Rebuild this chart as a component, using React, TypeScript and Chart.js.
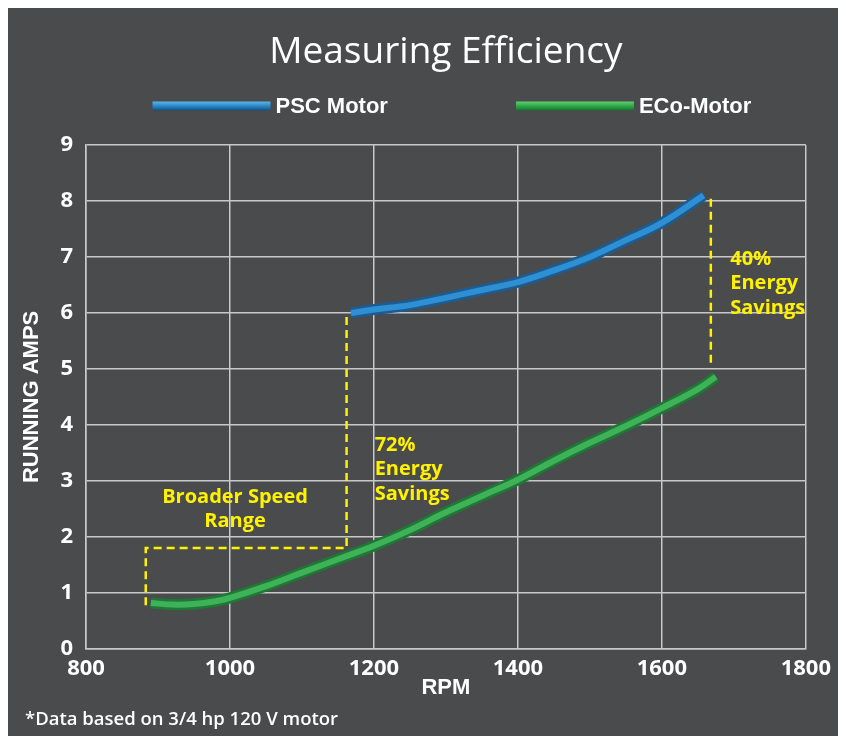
import React, { useEffect, useRef } from "react";
import { Chart, registerables } from "chart.js";

Chart.register(...registerables);

// ---------- data ----------
const TITLE = "Measuring Efficiency";
const FOOTNOTE = "*Data based on 3/4 hp 120 V motor";
const X_TITLE = "RPM";
const Y_TITLE = "RUNNING AMPS";
const SERIES_NAMES = ["PSC Motor", "ECo-Motor"];

const X_MIN = 800;
const X_MAX = 1800;
const X_STEP = 200;
const Y_MIN = 0;
const Y_MAX = 9;
const Y_STEP = 1;

const PSC_RPM = [1168, 1200, 1250, 1300, 1350, 1400, 1450, 1500, 1550, 1600, 1658];
const PSC_AMPS = [6.0, 6.06, 6.14, 6.27, 6.41, 6.55, 6.76, 7.0, 7.3, 7.61, 8.1];

const ECO_RPM = [890, 920, 950, 980, 1000, 1050, 1100, 1150, 1200, 1250, 1300, 1350, 1400, 1450, 1500, 1550, 1600, 1650, 1675];
const ECO_AMPS = [0.82, 0.79, 0.8, 0.85, 0.91, 1.12, 1.36, 1.6, 1.84, 2.12, 2.44, 2.73, 3.02, 3.36, 3.68, 3.98, 4.3, 4.64, 4.86];

const BRACKET_RPM = [883, 883, 1162, 1162];
const BRACKET_AMPS = [0.78, 1.8, 1.8, 5.97];
const SAVINGS40_RPM = [1668, 1668];
const SAVINGS40_AMPS = [8.04, 5.02];

const NOTE_TEXTS = [
  ["Broader Speed", "Range"],
  ["72%", "Energy", "Savings"],
  ["40%", "Energy", "Savings"],
];
const NOTE_RPM = [1007, 1201, 1695];
const NOTE_AMPS = [2.71, 3.64, 6.96];
const NOTE_ALIGN = ["center", "left", "left"];

// ---------- styles ----------
const BG = "#4a4b4d";
const GRID = "#c8c8c8";
const YELLOW = "#fff200";
const NARROW = "'Liberation Sans', Arial, sans-serif";
const OPEN = "'Open Sans', sans-serif";

const pts = (xs: number[], ys: number[]) => xs.map((x, i) => ({ x, y: ys[i] }));

const barLegend = {
  id: "barLegend",
  afterDraw(chart: any) {
    const ctx = chart.ctx as CanvasRenderingContext2D;
    const items = chart.data.datasets.filter((d: any) => d.legendBar);
    ctx.save();
    ctx.font = `bold 22px ${NARROW}`;
    const barW = 118;
    const barH = 9;
    const gap = 5;
    const spacing = 128;
    const widths = items.map((d: any) => barW + gap + ctx.measureText(d.label).width);
    const total = widths.reduce((a: number, b: number) => a + b, 0) + spacing * (items.length - 1);
    let x = (chart.chartArea.left + chart.chartArea.right) / 2 + 6 - total / 2;
    const y = 98;
    items.forEach((d: any, i: number) => {
      const g = ctx.createLinearGradient(0, y - barH / 2, 0, y + barH / 2);
      g.addColorStop(0, d.legendBar[0]);
      g.addColorStop(0.5, d.legendBar[1]);
      g.addColorStop(1, d.legendBar[2]);
      ctx.fillStyle = g;
      ctx.fillRect(x, y - barH / 2, barW, barH);
      ctx.fillStyle = "#ffffff";
      ctx.textBaseline = "middle";
      ctx.textAlign = "left";
      ctx.fillText(d.label, x + barW + gap, y + 1);
      x += widths[i] + spacing;
    });
    ctx.restore();
  },
};

const notesPlugin = {
  id: "notes",
  afterDatasetsDraw(chart: any) {
    const ctx = chart.ctx as CanvasRenderingContext2D;
    const xs = chart.scales.x;
    const ys = chart.scales.y;
    ctx.save();
    ctx.font = `bold 20px ${OPEN}`;
    ctx.fillStyle = YELLOW;
    ctx.textBaseline = "middle";
    NOTE_TEXTS.forEach((lines, i) => {
      const px = xs.getPixelForValue(NOTE_RPM[i]);
      const py = ys.getPixelForValue(NOTE_AMPS[i]);
      ctx.textAlign = NOTE_ALIGN[i] as CanvasTextAlign;
      lines.forEach((t, k) => ctx.fillText(t, px, py + k * 24.5));
    });
    ctx.restore();
  },
};

export default function App() {
  const ref = useRef<HTMLCanvasElement | null>(null);

  useEffect(() => {
    if (!ref.current) return;
    const tickFont = { family: OPEN, size: 22, weight: "bold" as const };
    const lineBase = {
      pointRadius: 0,
      tension: 0.4,
      borderCapStyle: "butt",
      borderJoinStyle: "round",
    };
    const chart = new Chart(ref.current, {
      type: "line",
      data: {
        datasets: [
          {
            ...lineBase,
            label: SERIES_NAMES[0],
            data: pts(PSC_RPM, PSC_AMPS),
            borderColor: "#2f8fd3",
            borderWidth: 6,
            order: 0,
          },
          {
            ...lineBase,
            label: SERIES_NAMES[0],
            data: pts(PSC_RPM, PSC_AMPS),
            borderColor: "#1b5c93",
            borderWidth: 11,
            order: 1,
            legendBar: ["#5ab6ec", "#2a88c8", "#174f80"],
          },
          {
            ...lineBase,
            label: SERIES_NAMES[1],
            data: pts(ECO_RPM, ECO_AMPS),
            borderColor: "#3fb158",
            borderWidth: 6,
            order: 0,
          },
          {
            ...lineBase,
            label: SERIES_NAMES[1],
            data: pts(ECO_RPM, ECO_AMPS),
            borderColor: "#1d7a34",
            borderWidth: 11,
            order: 1,
            legendBar: ["#5fd06e", "#2fa84a", "#1a6f2e"],
          },
          {
            label: "bracket",
            data: pts(BRACKET_RPM, BRACKET_AMPS),
            borderColor: YELLOW,
            borderWidth: 2.5,
            borderDash: [8, 5],
            pointRadius: 0,
            tension: 0,
            order: 2,
          },
          {
            label: "savings40",
            data: pts(SAVINGS40_RPM, SAVINGS40_AMPS),
            borderColor: YELLOW,
            borderWidth: 2.5,
            borderDash: [8, 5],
            pointRadius: 0,
            tension: 0,
            order: 2,
          },
        ],
      },
      options: {
        responsive: false,
        animation: false,
        layout: { padding: { left: 17, right: 27, top: 0, bottom: 1 } },
        plugins: {
          legend: { display: false },
          tooltip: { enabled: false },
          title: {
            display: true,
            text: TITLE,
            fullSize: false,
            color: "#ffffff",
            font: { family: OPEN, size: 37, weight: "normal" },
            padding: { top: 22, bottom: 70.6 },
          },
          subtitle: {
            display: true,
            position: "bottom",
            align: "start",
            text: FOOTNOTE,
            color: "#ffffff",
            font: { family: OPEN, size: 18.5, weight: 600 },
            padding: { top: 2, bottom: 4 },
          },
        },
        scales: {
          x: {
            type: "linear",
            min: X_MIN,
            max: X_MAX,
            ticks: {
              stepSize: X_STEP,
              color: "#ffffff",
              font: tickFont,
              padding: 7,
              maxRotation: 0,
              autoSkip: false,
              callback: (v: any) => String(v),
            },
            grid: { color: GRID, lineWidth: 1.5, drawTicks: false },
            border: { color: GRID, width: 1.5 },
            title: {
              display: true,
              text: X_TITLE,
              color: "#ffffff",
              font: { family: NARROW, size: 22, weight: "bold" },
              padding: { top: 0, bottom: 6 },
            },
            afterFit(s: any) {
              s.height = 58;
            },
          },
          y: {
            type: "linear",
            min: Y_MIN,
            max: Y_MAX,
            ticks: {
              stepSize: Y_STEP,
              color: "#ffffff",
              font: tickFont,
              padding: 13,
              callback: (v: any) => String(v),
            },
            grid: { color: GRID, lineWidth: 1.5, drawTicks: false },
            border: { color: GRID, width: 1.5 },
            title: {
              display: true,
              text: Y_TITLE,
              color: "#ffffff",
              font: { family: NARROW, size: 22, weight: "bold" },
              padding: { top: -6, bottom: 0 },
            },
            afterFit(s: any) {
              s.width = 61;
            },
          },
        },
      },
      plugins: [barLegend, notesPlugin],
    } as any);
    return () => chart.destroy();
  }, []);

  return (
    <div style={{ width: 830, height: 728, background: BG }}>
      <canvas ref={ref} width={830} height={728} style={{ display: "block", width: 830, height: 728 }} />
    </div>
  );
}
